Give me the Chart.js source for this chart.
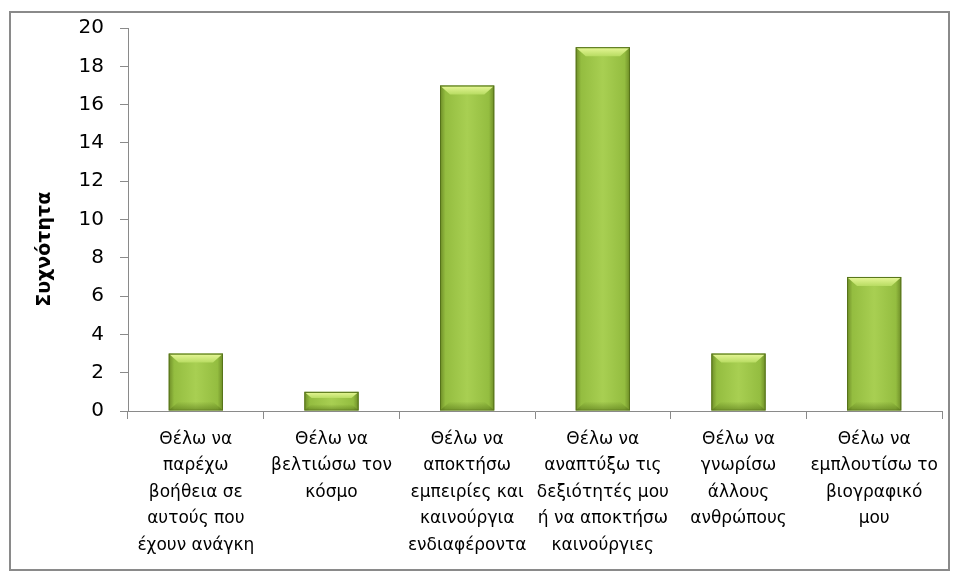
<!DOCTYPE html>
<html><head><meta charset="utf-8">
<script src="https://cdn.jsdelivr.net/npm/chart.js@4"></script>
<style>html,body{margin:0;padding:0;background:#fff}#wrap{width:958px;height:578px}</style>
</head><body><div id="wrap"><canvas id="c" width="958" height="578"></canvas></div>
<script>
const categories = [
  ["Θέλω να","παρέχω","βοήθεια σε","αυτούς που","έχουν ανάγκη"],
  ["Θέλω να","βελτιώσω τον","κόσμο"],
  ["Θέλω να","αποκτήσω","εμπειρίες και","καινούργια","ενδιαφέροντα"],
  ["Θέλω να","αναπτύξω τις","δεξιότητές μου","ή να αποκτήσω","καινούργιες"],
  ["Θέλω να","γνωρίσω","άλλους","ανθρώπους"],
  ["Θέλω να","εμπλουτίσω το","βιογραφικό","μου"]
];
const values = [3, 1, 17, 19, 3, 7];
const yTitle = "Συχνότητα";
const yMin = 0, yMax = 20, yStep = 2;

const BAR_PCT = 0.4;
function barFill(context) {
  const chart = context.chart;
  const xs = chart.scales.x;
  if (!xs || context.dataIndex == null) return '#a4c94a';
  const cx = xs.getPixelForValue(context.dataIndex);
  const w = (xs.width / categories.length) * BAR_PCT;
  if (!isFinite(cx) || !isFinite(w) || w <= 0) return '#a4c94a';
  const g = chart.ctx.createLinearGradient(cx - w/2, 0, cx + w/2, 0);
  g.addColorStop(0, '#6d8c27');
  g.addColorStop(0.1, '#94bd40');
  g.addColorStop(0.5, '#a8cf52');
  g.addColorStop(0.9, '#94bd40');
  g.addColorStop(1, '#6d8c27');
  return g;
}

const framePlugin = {
  id: 'frame',
  beforeDraw(chart) {
    const ctx = chart.ctx;
    ctx.save();
    ctx.fillStyle = '#fff';
    ctx.fillRect(0, 0, chart.width, chart.height);
    ctx.strokeStyle = '#8a8a8a';
    ctx.lineWidth = 2;
    ctx.strokeRect(10, 12, 939, 558);
    ctx.restore();
  },
  afterDatasetsDraw(chart) {
    const ctx = chart.ctx;
    const meta = chart.getDatasetMeta(0);
    ctx.save();
    meta.data.forEach(bar => {
      if (!isFinite(bar.x) || !isFinite(bar.y) || !isFinite(bar.base)) return;
      const l = bar.x - bar.width/2, r = bar.x + bar.width/2, t = bar.y;
      const bev = Math.min(9, (bar.base - bar.y) / 3);
      const g = ctx.createLinearGradient(0, t, 0, t + bev);
      g.addColorStop(0, '#e9f89a');
      g.addColorStop(1, '#b8dc62');
      ctx.fillStyle = g;
      ctx.beginPath();
      ctx.moveTo(l + 1, t + 1);
      ctx.lineTo(r - 1, t + 1);
      ctx.lineTo(r - 1 - bev, t + bev);
      ctx.lineTo(l + 1 + bev, t + bev);
      ctx.closePath();
      ctx.fill();
      const gb = ctx.createLinearGradient(0, bar.base - bev, 0, bar.base);
      gb.addColorStop(0, 'rgba(80,110,20,0)');
      gb.addColorStop(1, 'rgba(80,110,20,0.55)');
      ctx.fillStyle = gb;
      ctx.beginPath();
      ctx.moveTo(l + 1 + bev, bar.base - bev);
      ctx.lineTo(r - 1 - bev, bar.base - bev);
      ctx.lineTo(r - 1, bar.base - 1);
      ctx.lineTo(l + 1, bar.base - 1);
      ctx.closePath();
      ctx.fill();
      ctx.strokeStyle = '#56731a';
      ctx.lineWidth = 1;
      ctx.strokeRect(l + 0.5, t + 0.5, bar.width - 1, bar.base - t - 1);
    });
    ctx.restore();
  }
};

new Chart(document.getElementById('c'), {
  type: 'bar',
  data: {
    labels: categories,
    datasets: [{
      data: values,
      backgroundColor: barFill,
      borderWidth: 0,
      categoryPercentage: 1,
      barPercentage: BAR_PCT
    }]
  },
  options: {
    responsive: false,
    animation: false,
    layout: { padding: { left: 10, top: 28, right: 16, bottom: 0 } },
    plugins: { legend: { display: false }, tooltip: { enabled: false } },
    scales: {
      x: {
        afterFit(s) { s.height = 167; },
        grid: { offset: true, drawOnChartArea: false, drawTicks: true, tickLength: 8, color: '#8a8a8a' },
        border: { color: '#8a8a8a', width: 1 },
        ticks: { color: '#000', font: { family: 'DejaVu Sans', size: 17, lineHeight: 1.56 }, maxRotation: 0, autoSkip: false, padding: 7 }
      },
      y: {
        min: yMin, max: yMax,
        afterFit(s) { s.width = 118; },
        grid: { drawOnChartArea: false, drawTicks: true, tickLength: 8, color: '#8a8a8a' },
        border: { color: '#8a8a8a', width: 1 },
        ticks: { stepSize: yStep, color: '#000', font: { family: 'DejaVu Sans', size: 20 }, padding: 16 },
        title: { display: true, text: yTitle + '\u00A0'.repeat(9), color: '#000', font: { family: 'DejaVu Sans', size: 19, weight: 'bold' }, padding: { top: 24, bottom: 0 } }
      }
    }
  },
  plugins: [framePlugin]
});
</script></body></html>
